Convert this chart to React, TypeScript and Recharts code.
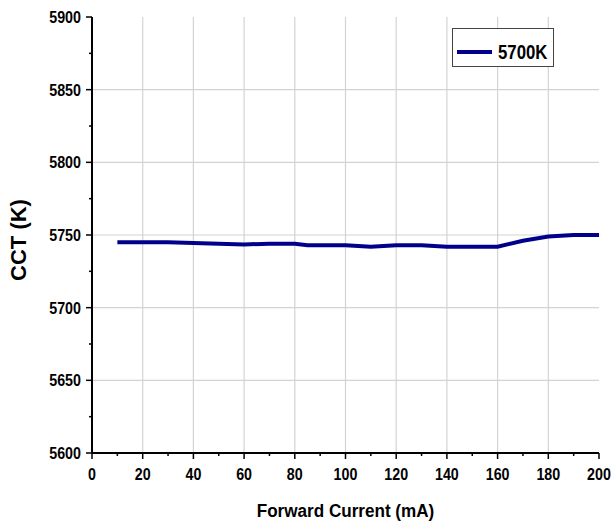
import { CartesianGrid, Line, LineChart, XAxis, YAxis } from "recharts";

// forward current (mA) and measured colour temperature (K)
const current = [10, 20, 30, 40, 50, 60, 70, 80, 85, 90, 100, 110, 120, 130, 140, 150, 160, 170, 180, 190, 200];
const cct = [5745, 5745, 5745, 5744.5, 5744, 5743.5, 5744, 5744, 5743, 5743, 5743, 5742, 5743, 5743, 5742, 5742, 5742, 5746, 5749, 5750, 5750];

const xTicks = [0, 10, 20, 30, 40, 50, 60, 70, 80, 90, 100, 110, 120, 130, 140, 150, 160, 170, 180, 190, 200];
const yTicks = [5600, 5625, 5650, 5675, 5700, 5725, 5750, 5775, 5800, 5825, 5850, 5875, 5900];
const xGrid = [20, 40, 60, 80, 100, 120, 140, 160, 180];
const yGrid = [5650, 5700, 5750, 5800, 5850];

const seriesName = "5700K";
const data = current.map((c, i) => ({ current: c, cct: cct[i] }));

const font = "'Liberation Sans', Arial, sans-serif";
const navy = "#00008b";

const isMajorX = (v: number) => v % 20 === 0;
const isMajorY = (v: number) => v % 50 === 0;

// bold text squeezed horizontally, like the narrow Arial used in the plot
function Narrow({ x, y, anchor, size, children }: any) {
  return (
    <g transform={`translate(${x} ${y}) scale(0.84 1)`}>
      <text x={0} y={0} textAnchor={anchor} fontFamily={font} fontWeight="bold" fontSize={size} fill="#000">
        {children}
      </text>
    </g>
  );
}

function BottomTick({ x, y, payload }: any) {
  const major = isMajorX(payload.value);
  return (
    <g>
      <line x1={x} x2={x} y1={y} y2={y + (major ? 6 : 3)} stroke="#000" strokeWidth={1.5} />
      {major && (
        <Narrow x={x} y={y + 27} anchor="middle" size={17}>
          {payload.value}
        </Narrow>
      )}
    </g>
  );
}

function TopTick({ x, y, payload }: any) {
  const len = isMajorX(payload.value) ? 5 : 3;
  return <line x1={x} x2={x} y1={y} y2={y + len} stroke="#000" strokeWidth={1.5} />;
}

function LeftTick({ x, y, payload }: any) {
  const major = isMajorY(payload.value);
  return (
    <g>
      <line x1={x - (major ? 6 : 3)} x2={x} y1={y} y2={y} stroke="#000" strokeWidth={1.5} />
      {major && (
        <Narrow x={x - 11} y={y + 6} anchor="end" size={17}>
          {payload.value}
        </Narrow>
      )}
    </g>
  );
}

function RightTick({ x, y, payload }: any) {
  const len = isMajorY(payload.value) ? 5 : 3;
  return <line x1={x - len} x2={x} y1={y} y2={y} stroke="#000" strokeWidth={1.5} />;
}

function LegendBox() {
  return (
    <svg width={102} height={39} style={{ position: "absolute", left: 452, top: 28 }}>
      <rect x={0.5} y={0.5} width={101} height={38} fill="#fff" stroke="#444" strokeWidth={1} />
      <line x1={5} x2={40} y1={24} y2={24} stroke={navy} strokeWidth={4} />
      <Narrow x={46} y={31} anchor="start" size={20}>
        {seriesName}
      </Narrow>
    </svg>
  );
}

function XTitle() {
  return (
    <svg width={612} height={40} style={{ position: "absolute", left: 0, top: 490 }}>
      <g transform="translate(345.5 27) scale(0.9 1)">
        <text x={0} y={0} textAnchor="middle" fontFamily={font} fontWeight="bold" fontSize={19} fill="#000">
          Forward Current (mA)
        </text>
      </g>
    </svg>
  );
}

export default function App() {
  return (
    <div style={{ position: "absolute", left: 0, top: 0, width: 612, height: 525, background: "#fff" }}>
      <LineChart width={612} height={525} data={data} margin={{ top: 17, right: 13, left: 0, bottom: 0 }}>
        <CartesianGrid stroke="#d3d3d3" strokeWidth={1.2} verticalValues={xGrid} horizontalValues={yGrid} />
        <XAxis
          dataKey="current"
          type="number"
          domain={[0, 200]}
          ticks={xTicks}
          interval={0}
          height={72}
          tickSize={0}
          tickMargin={0}
          tickLine={false}
          tick={<BottomTick />}
          axisLine={{ stroke: "#000", strokeWidth: 2 }}
        />
        <XAxis
          xAxisId="top"
          orientation="top"
          dataKey="current"
          type="number"
          domain={[0, 200]}
          ticks={xTicks}
          interval={0}
          height={0}
          tickSize={0}
          tickMargin={0}
          tickLine={false}
          tick={<TopTick />}
          axisLine={{ stroke: "#000", strokeWidth: 2 }}
        />
        <YAxis
          type="number"
          domain={[5600, 5900]}
          ticks={yTicks}
          interval={0}
          width={92}
          tickSize={0}
          tickMargin={0}
          tickLine={false}
          tick={<LeftTick />}
          axisLine={{ stroke: "#000", strokeWidth: 2 }}
          label={{ value: "CCT (K)", angle: -90, position: "insideLeft", offset: 18, dy: 5, fontFamily: font, fontWeight: "bold", fontSize: 22, fill: "#000", textAnchor: "middle" }}
        />
        <YAxis
          yAxisId="right"
          orientation="right"
          type="number"
          domain={[5600, 5900]}
          ticks={yTicks}
          interval={0}
          width={0}
          tickSize={0}
          tickMargin={0}
          tickLine={false}
          tick={<RightTick />}
          axisLine={{ stroke: "#000", strokeWidth: 2 }}
        />
        <Line
          type="linear"
          dataKey="cct"
          name={seriesName}
          stroke={navy}
          strokeWidth={4}
          dot={false}
          isAnimationActive={false}
        />
      </LineChart>
      <LegendBox />
      <XTitle />
    </div>
  );
}
